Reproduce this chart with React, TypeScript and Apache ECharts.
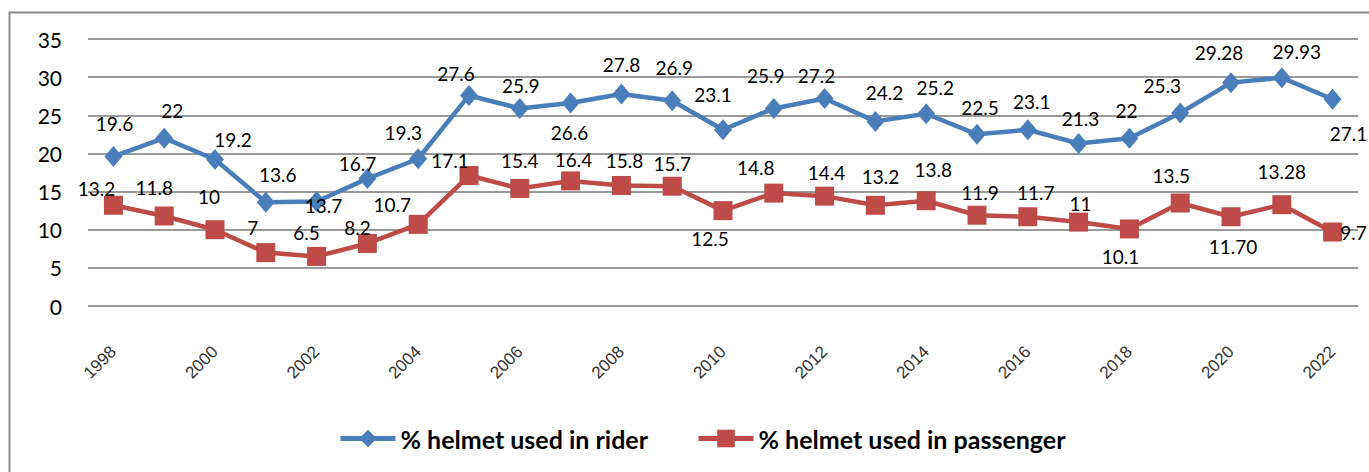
import React, { useEffect, useRef } from "react";
import * as echarts from "echarts";

const years = [
  "1998", "1999", "2000", "2001", "2002", "2003", "2004", "2005", "2006", "2007",
  "2008", "2009", "2010", "2011", "2012", "2013", "2014", "2015", "2016", "2017",
  "2018", "2019", "2020", "2021", "2022",
];
const riderName = "% helmet used in rider";
const passengerName = "% helmet used in passenger";
const rider = [
  19.6, 22, 19.2, 13.6, 13.7, 16.7, 19.3, 27.6, 25.9, 26.6, 27.8, 26.9, 23.1,
  25.9, 27.2, 24.2, 25.2, 22.5, 23.1, 21.3, 22, 25.3, 29.28, 29.93, 27.1,
];
const passenger = [
  13.2, 11.8, 10, 7, 6.5, 8.2, 10.7, 17.1, 15.4, 16.4, 15.8, 15.7, 12.5, 14.8,
  14.4, 13.2, 13.8, 11.9, 11.7, 11, 10.1, 13.5, 11.7, 13.28, 9.7,
];
const riderLabels = [
  "19.6", "22", "19.2", "13.6", "13.7", "16.7", "19.3", "27.6", "25.9", "26.6",
  "27.8", "26.9", "23.1", "25.9", "27.2", "24.2", "25.2", "22.5", "23.1", "21.3",
  "22", "25.3", "29.28", "29.93", "27.1",
];
const passengerLabels = [
  "13.2", "11.8", "10", "7", "6.5", "8.2", "10.7", "17.1", "15.4", "16.4",
  "15.8", "15.7", "12.5", "14.8", "14.4", "13.2", "13.8", "11.9", "11.7", "11",
  "10.1", "13.5", "11.70", "13.28", "9.7",
];

// label placement relative to each marker (layout only)
const riderOffsets: [number, number][] = [
  [1, -33], [8, -28], [18, -20], [12, -28], [7, 4], [-10, -15], [-15, -26],
  [-13, -22], [1, -23], [-1, 29], [0, -29], [2, -33], [-10, -35], [-8, -33],
  [-8, -23], [9, -29], [9, -26], [3, -27], [4, -28], [2, -25], [-3, -28],
  [-18, -27], [-12, -30], [15, -26], [16, 34],
];
const passengerOffsets: [number, number][] = [
  [-17, -17], [-10, -28], [-6, -33], [-13, -25], [-10, -24], [-10, -16],
  [-26, -20], [-19, -15], [0, -28], [3, -21], [3, -25], [0, -23], [-13, 28],
  [-18, -26], [2, -24], [5, -29], [7, -31], [3, -23], [8, -24], [2, -19],
  [-9, 28], [-9, -28], [2, 30], [0, -33], [21, 0],
];

const BLUE = "#4a7ebb";
const RED = "#be4b48";
const FONT = "Lato, 'Open Sans', sans-serif";

export default function App() {
  const ref = useRef<HTMLDivElement>(null);
  useEffect(() => {
    document.body.style.margin = "0";
    const chart = echarts.init(ref.current!, undefined, { renderer: "svg" });
    const mkData = (vals: number[], labels: string[], offs: [number, number][]) =>
      vals.map((v, i) => ({
        value: v,
        label: { show: true, position: "inside", offset: offs[i], formatter: labels[i] },
      }));
    chart.setOption({
      animation: false,
      backgroundColor: "#fff",
      graphic: [
        {
          type: "rect",
          left: 7,
          top: 10,
          shape: { width: 1375, height: 480 },
          style: { fill: "none", stroke: "#8c8c8c", lineWidth: 2 },
          silent: true,
          z: -1,
        },
      ],
      grid: { left: 88, right: 11, top: 39, bottom: 166 },
      legend: {
        left: 338,
        top: 426,
        padding: 0,
        itemWidth: 55,
        itemHeight: 22,
        itemGap: 48,
        lineStyle: { width: 5 },
        textStyle: { fontFamily: FONT, fontSize: 25, fontWeight: "bold", color: "#000" },
        data: [riderName, passengerName],
      },
      xAxis: {
        type: "category",
        data: years,
        boundaryGap: true,
        axisLine: { show: false },
        axisTick: { show: false },
        axisLabel: {
          interval: 1,
          rotate: 45,
          margin: 43,
          fontFamily: "'Liberation Sans', Arial, sans-serif",
          fontSize: 17,
          color: "#333",
        },
      },
      yAxis: {
        type: "value",
        min: 0,
        max: 35,
        interval: 5,
        axisLine: { show: false },
        axisTick: { show: false },
        axisLabel: { margin: 26, fontFamily: FONT, fontSize: 21, color: "#000" },
        splitLine: { lineStyle: { color: "#9a9a9a", width: 2 } },
      },
      series: [
        {
          name: riderName,
          type: "line",
          data: mkData(rider, riderLabels, riderOffsets),
          symbol: "diamond",
          symbolSize: [18, 21],
          showAllSymbol: true,
          lineStyle: { color: BLUE, width: 4.5 },
          itemStyle: { color: BLUE },
          label: { fontFamily: FONT, fontSize: 19, color: "#000" },
          z: 3,
        },
        {
          name: passengerName,
          type: "line",
          data: mkData(passenger, passengerLabels, passengerOffsets),
          symbol: "rect",
          symbolSize: 19,
          showAllSymbol: true,
          lineStyle: { color: RED, width: 4.5 },
          itemStyle: { color: RED },
          label: { fontFamily: FONT, fontSize: 19, color: "#000" },
          z: 2,
        },
      ],
    });
    return () => chart.dispose();
  }, []);
  return (
    <div
      ref={ref}
      style={{ position: "absolute", left: 0, top: 0, width: 1369, height: 472 }}
    />
  );
}
